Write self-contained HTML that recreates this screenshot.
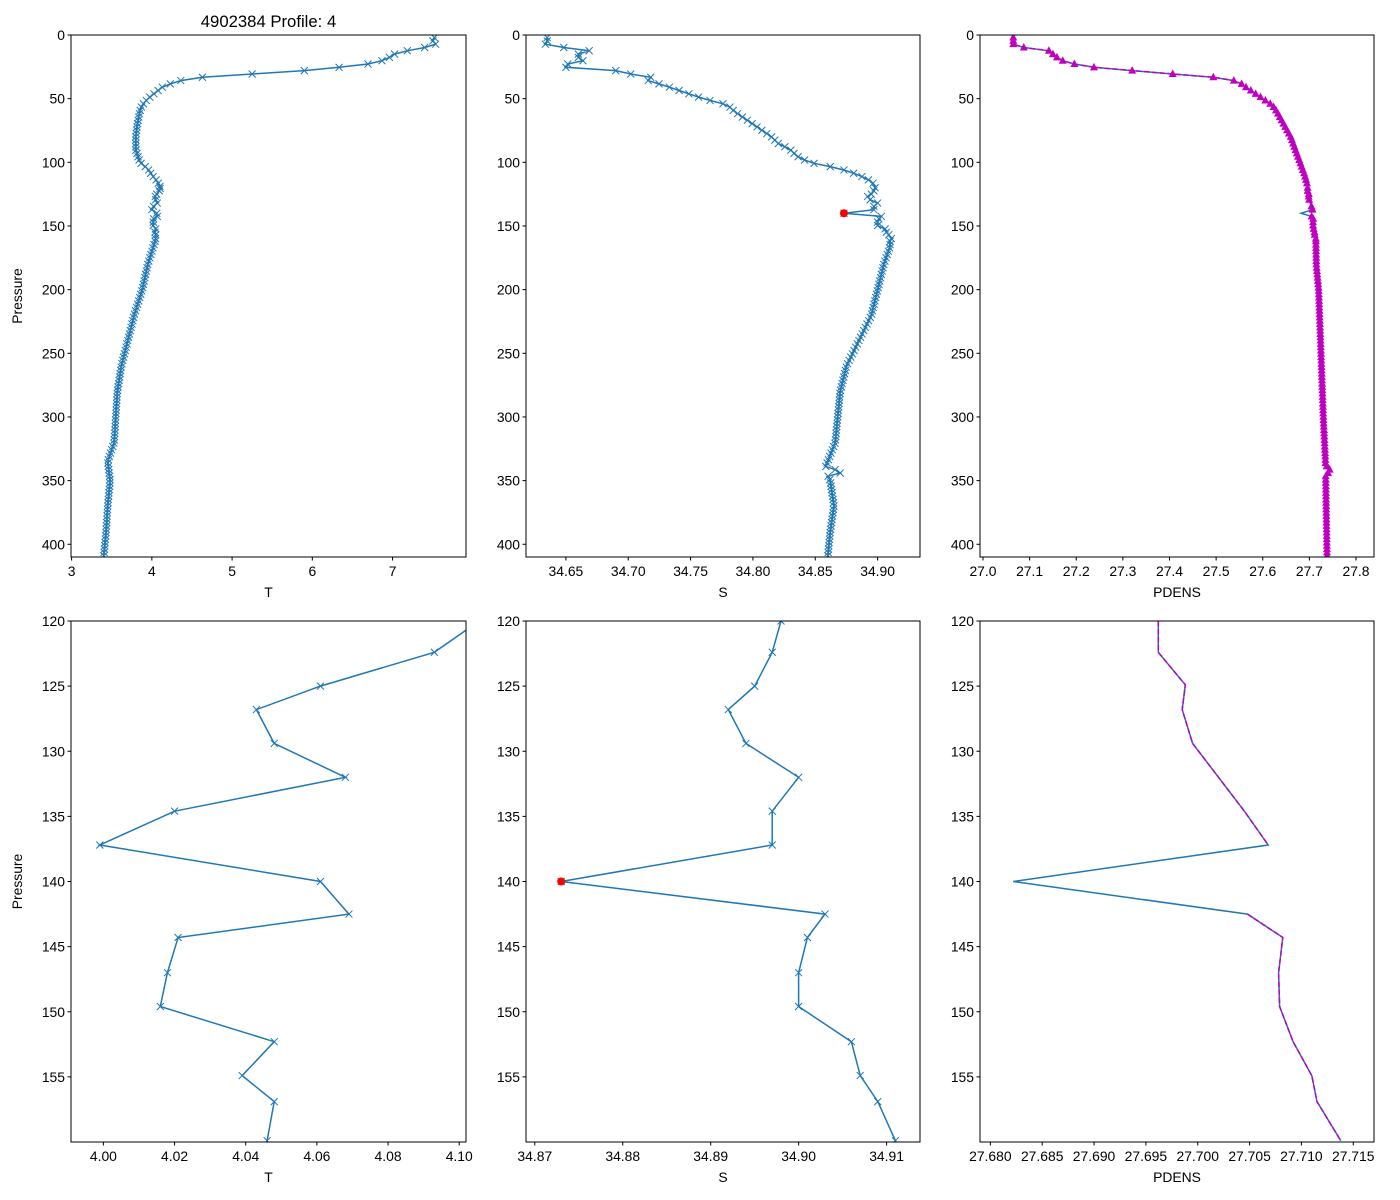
<!DOCTYPE html>
<html><head><meta charset="utf-8"><style>
html,body{margin:0;padding:0;background:#fff;}
svg{display:block;font-family:"Liberation Sans","DejaVu Sans",sans-serif;}
</style></head><body>
<svg id="s" width="1400" height="1200" xmlns="http://www.w3.org/2000/svg"></svg>
<script>
const S=document.getElementById('s');let h='';
function interp(keys,step){const out=[];const p0=keys[0][0],p1=keys[keys.length-1][0];
 for(let p=p0;p<=p1+1e-9;p+=step){let i=0;while(i<keys.length-2&&keys[i+1][0]<p)i++;
  const a=keys[i],b=keys[i+1];const t=(p-a[0])/(b[0]-a[0]||1);out.push([p,a[1]+(b[1]-a[1])*t]);}
 return out;}
// bottom data (p,val)
const bT=[[120.5,4.103],[122.4,4.093],[125,4.061],[126.8,4.043],[129.4,4.048],[132,4.068],[134.6,4.020],[137.2,3.999],[140,4.061],[142.5,4.069],[144.3,4.021],[147,4.018],[149.6,4.016],[152.3,4.048],[154.9,4.039],[156.9,4.048],[159.9,4.046]];
const bS=[[120,34.898],[122.4,34.897],[125,34.895],[126.8,34.892],[129.4,34.894],[132,34.900],[134.6,34.897],[137.2,34.897],[140,34.873],[142.5,34.903],[144.3,34.901],[147,34.900],[149.6,34.900],[152.3,34.906],[154.9,34.907],[156.9,34.909],[159.9,34.911]];
const bP=[[120,27.6962],[122.4,27.6962],[124.9,27.6988],[126.8,27.6985],[129.4,27.6995],[134.6,27.7045],[137.2,27.7068],[140,27.6822],[142.5,27.7048],[144.3,27.7082],[147,27.7078],[149.6,27.7079],[152.3,27.7092],[154.9,27.7110],[156.9,27.7115],[159.9,27.7138]];
const tTop=interp([[2,7.52],[5,7.5],[8,7.55],[11,7.3],[14,7.05],[18,6.95],[22,6.8],[25,6.4],[28,5.9],[30,5.4],[32,4.9],[34,4.45],[37,4.3],[40,4.15],[45,4.05],[50,3.95],[55,3.88],[60,3.85],[70,3.82],[80,3.8],[90,3.8],[100,3.85],[105,3.95],[110,4.0],[115,4.07],[119,4.1]],2.6).concat(bT).concat(interp([[162,4.04],[170,4.0],[180,3.95],[200,3.88],[220,3.78],[240,3.7],[260,3.62],[280,3.57],[300,3.55],[320,3.53],[335,3.45],[350,3.48],[370,3.45],[390,3.43],[410,3.4]],2.6));
const sTop=interp([[2,34.635],[5,34.635],[8,34.633],[10,34.65],[12,34.67],[15,34.66],[18,34.66],[21,34.665],[23,34.65],[26,34.65],[28,34.69],[30,34.69],[32,34.73],[34,34.71],[37,34.72],[40,34.73],[45,34.745],[50,34.76],[55,34.78],[60,34.785],[70,34.80],[80,34.815],[85,34.82],[90,34.83],[95,34.835],[100,34.845],[105,34.87],[110,34.885],[115,34.895],[118,34.898]],2.6).concat(bS).concat(interp([[162,34.91],[166,34.91],[180,34.905],[200,34.90],[220,34.895],[240,34.885],[260,34.875],[280,34.87],[300,34.868],[320,34.866],[335,34.86],[340,34.858],[343,34.875],[346,34.86],[350,34.862],[370,34.865],[390,34.862],[410,34.86]],2.6));
const pTop=interp([[2,27.065],[8,27.065],[10,27.09],[12,27.14],[15,27.15],[18,27.16],[21,27.175],[24,27.21],[26,27.25],[28,27.32],[30,27.38],[32,27.47],[35,27.53],[37,27.55],[40,27.56],[45,27.58],[50,27.60],[55,27.62],[60,27.63],[70,27.645],[80,27.66],[90,27.67],[100,27.68],[110,27.69],[118,27.696]],2.6).concat(bP).concat(interp([[162,27.714],[180,27.715],[200,27.72],[250,27.725],[300,27.73],[338,27.735],[342,27.745],[346,27.735],[410,27.738]],2.6));
function ax(o){const {x0,x1,y0,y1,xmin,xmax,pmin,pmax}=o;
 const X=v=>x0+(v-xmin)/(xmax-xmin)*(x1-x0),Y=p=>y0+(p-pmin)/(pmax-pmin)*(y1-y0);
 const id='c'+Math.round(x0)+Math.round(y0);
 h+=`<clipPath id="${id}"><rect x="${x0}" y="${y0}" width="${x1-x0}" height="${y1-y0}"/></clipPath><g clip-path="url(#${id})">`;
 const pts=d=>d.map(q=>X(q[1]).toFixed(1)+','+Y(q[0]).toFixed(1)).join(' ');
 h+=`<polyline points="${pts(o.data)}" fill="none" stroke="#1f77b4" stroke-width="1.5"/>`;
 if(o.mag){const segs=[[],[]];let k=0;o.data.forEach(q=>{if(Math.abs(q[0]-140)<0.01){k=1;return;}segs[k].push(q);});
  segs.forEach(sg=>h+=`<polyline points="${pts(sg)}" fill="none" stroke="#bf00bf" stroke-width="1.5" stroke-dasharray="5.5,2.4"/>`);
  if(o.tri)o.data.forEach(q=>{if(Math.abs(q[0]-140)<0.01)return;const x=X(q[1]),y=Y(q[0]);h+=`<polygon points="${x},${y-4.5} ${x-4},${y+3} ${x+4},${y+3}" fill="#bf00bf"/>`;});}
 if(o.cross)o.data.forEach(q=>{const x=X(q[1]),y=Y(q[0]);h+=`<path d="M${x-3.5},${y-3.5}L${x+3.5},${y+3.5}M${x-3.5},${y+3.5}L${x+3.5},${y-3.5}" stroke="#1f77b4" stroke-width="1"/>`;});
 if(o.red)h+=`<circle cx="${X(34.873)}" cy="${Y(140)}" r="4" fill="#ff0000"/>`;
 h+='</g>';
 h+=`<rect x="${x0}" y="${y0}" width="${x1-x0}" height="${y1-y0}" fill="none" stroke="#000" stroke-width="1"/>`;
 o.yt.forEach(p=>{const y=Y(p);h+=`<line x1="${x0-3.5}" x2="${x0}" y1="${y}" y2="${y}" stroke="#000"/><text x="${x0-6}" y="${y+5}" font-size="13.9" text-anchor="end">${p}</text>`;});
 o.xt.forEach(v=>{const x=X(v);h+=`<line x1="${x}" x2="${x}" y1="${y1}" y2="${y1+3.5}" stroke="#000"/><text x="${x}" y="${y1+19}" font-size="13.9" text-anchor="middle">${v.toFixed(o.dec)}</text>`;});
 h+=`<text x="${(x0+x1)/2}" y="${y1+40}" font-size="13.9" text-anchor="middle">${o.lab}</text>`;
 if(o.ylab)h+=`<text transform="translate(${x0-49},${(y0+y1)/2}) rotate(-90)" font-size="13.9" text-anchor="middle">Pressure</text>`;
}
const rng=(a,b,s)=>{const r=[];for(let v=a;v<=b+s/1000;v+=s)r.push(+v.toFixed(4));return r;};
const topY=rng(0,400,50),botY=rng(120,155,5);
const T={y0:35,y1:557,pmin:0,pmax:410},B={y0:621,y1:1142,pmin:120,pmax:160};
ax({...T,x0:71,x1:466,xmin:2.9925,xmax:7.915,data:tTop,cross:1,yt:topY,xt:rng(3,7,1),dec:0,lab:'T',ylab:1});
ax({...T,x0:526,x1:920,xmin:34.618,xmax:34.934,data:sTop,cross:1,red:1,yt:topY,xt:rng(34.65,34.9,0.05),dec:2,lab:'S'});
ax({...T,x0:980,x1:1374,xmin:26.9936,xmax:27.8386,data:pTop,mag:1,tri:1,yt:topY,xt:rng(27.0,27.8,0.1),dec:1,lab:'PDENS'});
ax({...B,x0:71,x1:466,xmin:3.9909,xmax:4.1019,data:bT,cross:1,yt:botY,xt:rng(4.0,4.1,0.02),dec:2,lab:'T',ylab:1});
ax({...B,x0:526,x1:920,xmin:34.869,xmax:34.9138,data:bS,cross:1,red:1,yt:botY,xt:rng(34.87,34.91,0.01),dec:2,lab:'S'});
ax({...B,x0:980,x1:1374,xmin:27.6790,xmax:27.7170,data:bP,mag:1,yt:botY,xt:rng(27.68,27.715,0.005),dec:3,lab:'PDENS'});
h+=`<text x="268.5" y="27" font-size="16.7" text-anchor="middle">4902384 Profile: 4</text>`;
S.innerHTML=h;
</script>
</body></html>
